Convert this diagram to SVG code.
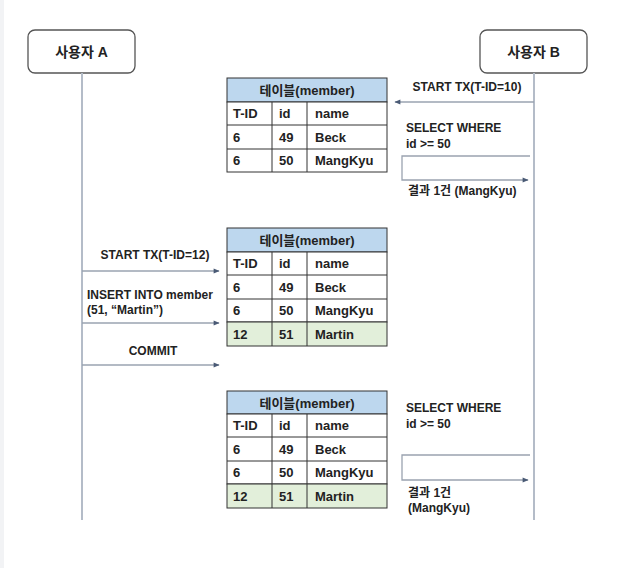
<svg xmlns="http://www.w3.org/2000/svg" width="622" height="568" viewBox="0 0 622 568">
<defs>
<style>
.bg{fill:#ffffff}
.actor{fill:#ffffff;stroke:#555555;stroke-width:1.3}
.life{stroke:#b4bcc8;stroke-width:2;fill:none}
.msg{stroke:#9aa3b0;stroke-width:1.3;fill:none}
.t{font-family:"Liberation Sans","Noto Sans CJK KR",Arial,sans-serif;font-size:12px;font-weight:bold;fill:#222}
.ta{font-family:"Liberation Sans","Noto Sans CJK KR",Arial,sans-serif;font-size:14px;font-weight:bold;fill:#222}
.tc{font-family:"Liberation Sans","Noto Sans CJK KR",Arial,sans-serif;font-size:13px;font-weight:bold;fill:#222}
.hdr{fill:#bdd7ee;stroke:#333;stroke-width:1}
.cell{fill:#ffffff;stroke:#333;stroke-width:1}
.grn{fill:#e2efda;stroke:#333;stroke-width:1}
.grid{stroke:#333;stroke-width:1;fill:none}
</style>
<marker id="ah" viewBox="0 0 10 10" refX="9" refY="5" markerWidth="8" markerHeight="6" orient="auto" markerUnits="userSpaceOnUse">
<path d="M0,1 L10,5 L0,9 z" fill="#4a5a75"/>
</marker>
</defs>
<rect class="bg" x="0" y="0" width="622" height="568"/>
<rect x="0" y="0" width="4" height="568" fill="#f2f3f5"/>

<g id="actorA">
<rect class="actor" x="28" y="30" width="107" height="43" rx="7"/>
<text class="ta" x="81.5" y="56.5" text-anchor="middle">사용자 A</text>
</g>
<g id="actorB">
<rect class="actor" x="480" y="30" width="107" height="43" rx="7"/>
<text class="ta" x="533.5" y="56.5" text-anchor="middle">사용자 B</text>
</g>

<g id="lifelines">
<line class="life" x1="82" y1="73" x2="82" y2="520"/>
<line class="life" x1="534" y1="73" x2="534" y2="520"/>
</g>

<g id="table1">
<rect class="hdr" x="227" y="78" width="160" height="24"/>
<rect class="cell" x="227" y="102" width="160" height="70"/>
<path class="grid" d="M227,125H387M227,149H387M272,102V172M307,102V172"/>
<text class="tc" x="307" y="95" text-anchor="middle">테이블(member)</text>
<text class="tc" x="233" y="118">T-ID</text><text class="tc" x="279" y="118">id</text><text class="tc" x="315" y="118">name</text>
<text class="tc" x="233" y="142">6</text><text class="tc" x="279" y="142">49</text><text class="tc" x="315" y="142">Beck</text>
<text class="tc" x="233" y="165">6</text><text class="tc" x="279" y="165">50</text><text class="tc" x="315" y="165">MangKyu</text>
</g>

<g id="table2">
<rect class="hdr" x="227" y="228" width="160" height="24"/>
<rect class="cell" x="227" y="252" width="160" height="70"/>
<rect class="grn" x="227" y="322" width="160" height="24"/>
<path class="grid" d="M227,275H387M227,299H387M272,252V346M307,252V346"/>
<text class="tc" x="307" y="245" text-anchor="middle">테이블(member)</text>
<text class="tc" x="233" y="268">T-ID</text><text class="tc" x="279" y="268">id</text><text class="tc" x="315" y="268">name</text>
<text class="tc" x="233" y="292">6</text><text class="tc" x="279" y="292">49</text><text class="tc" x="315" y="292">Beck</text>
<text class="tc" x="233" y="315">6</text><text class="tc" x="279" y="315">50</text><text class="tc" x="315" y="315">MangKyu</text>
<text class="tc" x="233" y="339">12</text><text class="tc" x="279" y="339">51</text><text class="tc" x="315" y="339">Martin</text>
</g>

<g id="table3">
<rect class="hdr" x="227" y="391" width="160" height="23"/>
<rect class="cell" x="227" y="414" width="160" height="70"/>
<rect class="grn" x="227" y="484" width="160" height="24"/>
<path class="grid" d="M227,437H387M227,461H387M272,414V508M307,414V508"/>
<text class="tc" x="307" y="407.5" text-anchor="middle">테이블(member)</text>
<text class="tc" x="233" y="430">T-ID</text><text class="tc" x="279" y="430">id</text><text class="tc" x="315" y="430">name</text>
<text class="tc" x="233" y="454">6</text><text class="tc" x="279" y="454">49</text><text class="tc" x="315" y="454">Beck</text>
<text class="tc" x="233" y="477">6</text><text class="tc" x="279" y="477">50</text><text class="tc" x="315" y="477">MangKyu</text>
<text class="tc" x="233" y="501">12</text><text class="tc" x="279" y="501">51</text><text class="tc" x="315" y="501">Martin</text>
</g>

<g id="connectors">
<line class="msg" x1="534" y1="102" x2="395" y2="102" marker-end="url(#ah)"/>
<path class="msg" d="M530,156H402V180H528" marker-end="url(#ah)"/>
<line class="msg" x1="82" y1="271" x2="219" y2="271" marker-end="url(#ah)"/>
<line class="msg" x1="82" y1="323" x2="219" y2="323" marker-end="url(#ah)"/>
<line class="msg" x1="82" y1="365" x2="219" y2="365" marker-end="url(#ah)"/>
<path class="msg" d="M530,455H402V480H528" marker-end="url(#ah)"/>
</g>

<g id="labels">
<text class="t" x="467" y="91" text-anchor="middle">START TX(T-ID=10)</text>
<text class="t" x="406" y="132">SELECT WHERE</text>
<text class="t" x="406" y="148">id &gt;= 50</text>
<text class="t" x="408" y="195">결과 1건 (MangKyu)</text>
<text class="t" x="155" y="259" text-anchor="middle">START TX(T-ID=12)</text>
<text class="t" x="87" y="299">INSERT INTO member</text>
<text class="t" x="87" y="314">(51, “Martin”)</text>
<text class="t" x="153" y="355" text-anchor="middle">COMMIT</text>
<text class="t" x="406" y="412">SELECT WHERE</text>
<text class="t" x="406" y="428">id &gt;= 50</text>
<text class="t" x="408" y="497">결과 1건</text>
<text class="t" x="408" y="512">(MangKyu)</text>
</g>
</svg>
